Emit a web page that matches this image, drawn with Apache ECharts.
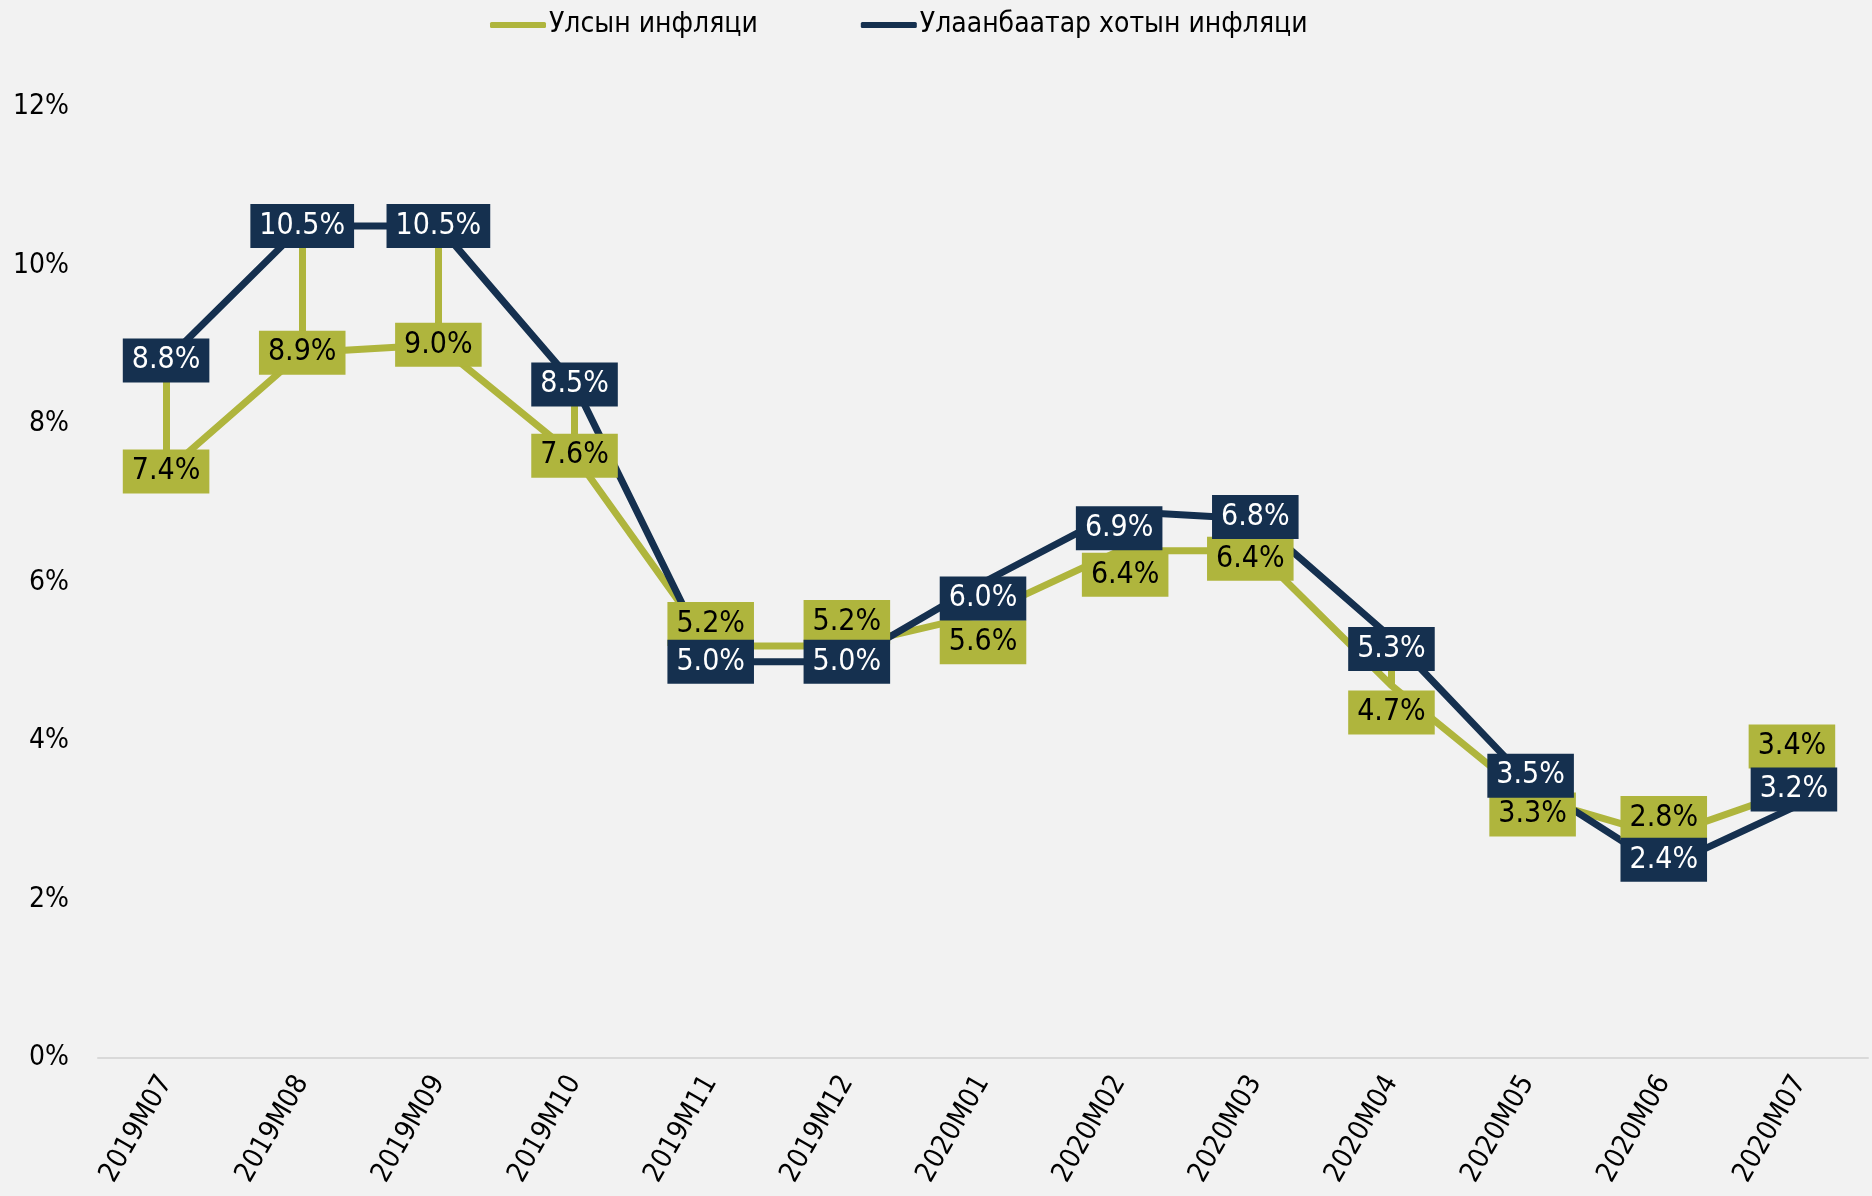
<!DOCTYPE html>
<html>
<head>
  <meta charset="utf-8">
  <title>Инфляци</title>
  <script src="https://cdn.jsdelivr.net/npm/echarts@6/dist/echarts.min.js"></script>
  <style>
    html, body { margin: 0; padding: 0; background: #f2f2f2; }
    #chart { width: 1872px; height: 1196px; }
  </style>
</head>
<body>
<div id="chart"></div>
<script type="text/javascript">
var months = ['2019M07','2019M08','2019M09','2019M10','2019M11','2019M12','2020M01','2020M02','2020M03','2020M04','2020M05','2020M06','2020M07'];
var national = [7.4, 8.9, 9.0, 7.6, 5.2, 5.2, 5.6, 6.4, 6.4, 4.7, 3.3, 2.8, 3.4];
var ulaanbaatar = [8.8, 10.5, 10.5, 8.5, 5.0, 5.0, 6.0, 6.9, 6.8, 5.3, 3.5, 2.4, 3.2];
var seriesNames = ['Улсын инфляци', 'Улаанбаатар хотын инфляци'];

// months where a green leader line runs up to the city value
var leaderMonths = ['2019M07','2019M08','2019M09','2019M10','2020M04'];

// label shifts (px), same order as months
var greenShift = [[0,0],[0,0],[0,0],[0,0],[0,-22],[0,-24],[0,28],[6,24],[-5,8],[0,27],[5,18],[0,-18],[-8,-42]];
var blueShift  = [[0,0],[0,0],[0,0],[0,0],[0,0],[0,0],[0,16],[0,17],[0,-2],[0,11],[3,-5],[0,-8],[-6,-15]];

var GREEN = '#afb53d';
var NAVY = '#15304f';
var FONT = 'DejaVu Sans Condensed';

var chart = echarts.init(document.getElementById('chart'));

function fmt(p) {
  return p.value.toFixed(1) + '%';
}

function buildData(vals, shifts) {
  var arr = [];
  for (var i = 0; i < vals.length; i++) {
    arr.push({ value: vals[i], label: { offset: shifts[i] } });
  }
  return arr;
}

var leaders = [];
for (var k = 0; k < leaderMonths.length; k++) {
  var idx = months.indexOf(leaderMonths[k]);
  leaders.push([
    { coord: [months[idx], national[idx]] },
    { coord: [months[idx], ulaanbaatar[idx]] }
  ]);
}

var option = {
  animation: false,
  backgroundColor: '#f2f2f2',
  textStyle: { fontFamily: FONT },
  legend: {
    left: 485,
    top: 6,
    icon: 'roundRect',
    itemWidth: 56,
    itemHeight: 6,
    itemGap: 103,
    textStyle: { fontSize: 28, color: '#000', fontFamily: FONT, padding: [0, 0, 0, -2] },
    data: seriesNames
  },
  grid: { left: 98, right: 4, top: 107, bottom: 138 },
  xAxis: {
    type: 'category',
    data: months,
    axisLine: { lineStyle: { color: '#d9d9d9', width: 2 } },
    axisTick: { show: false },
    axisLabel: { rotate: 60, fontSize: 28, color: '#000', margin: 20, fontFamily: FONT }
  },
  yAxis: {
    type: 'value',
    min: 0,
    max: 12,
    interval: 2,
    splitLine: { show: false },
    axisLine: { show: false },
    axisLabel: { formatter: '{value}%', fontSize: 28, color: '#000', margin: 29, fontFamily: FONT }
  },
  series: [
    {
      name: seriesNames[0],
      type: 'line',
      z: 2,
      data: buildData(national, greenShift),
      symbol: 'circle',
      symbolSize: 2,
      itemStyle: { color: GREEN },
      lineStyle: { color: GREEN, width: 7 },
      label: {
        show: true,
        position: 'inside',
        formatter: fmt,
        fontSize: 30,
        fontFamily: FONT,
        color: '#000',
        backgroundColor: GREEN,
        padding: [7, 9]
      },
      markLine: {
        silent: true,
        z: 1,
        symbol: 'none',
        label: { show: false },
        lineStyle: { color: GREEN, width: 7, type: 'solid' },
        data: leaders
      }
    },
    {
      name: seriesNames[1],
      type: 'line',
      z: 2,
      data: buildData(ulaanbaatar, blueShift),
      symbol: 'circle',
      symbolSize: 2,
      itemStyle: { color: NAVY },
      lineStyle: { color: NAVY, width: 7 },
      label: {
        show: true,
        position: 'inside',
        formatter: fmt,
        fontSize: 30,
        fontFamily: FONT,
        color: '#fff',
        backgroundColor: NAVY,
        padding: [7, 9]
      }
    }
  ]
};

chart.setOption(option);
</script>
</body>
</html>
